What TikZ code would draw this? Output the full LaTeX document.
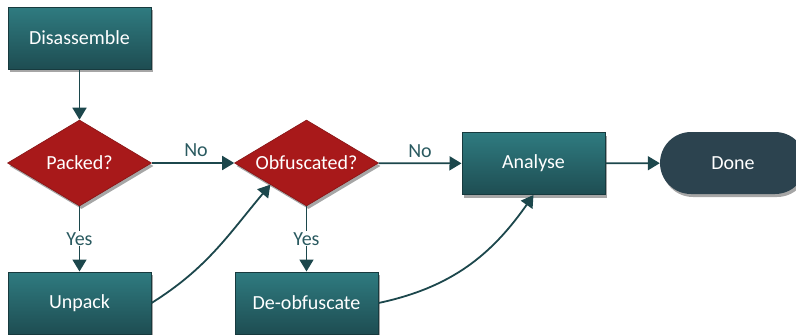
\documentclass[tikz,border=0pt]{standalone}
\usepackage{fontspec}
\setmainfont{Carlito}
\usetikzlibrary{shapes.geometric,arrows.meta,shadows}
\definecolor{tealtop}{HTML}{2F7B80}
\definecolor{tealbot}{HTML}{1E4D52}
\definecolor{tealedge}{HTML}{173A3E}
\definecolor{decred}{HTML}{A8191A}
\definecolor{donefill}{HTML}{2C434F}
\definecolor{linkcol}{HTML}{1C474C}
\definecolor{labelcol}{HTML}{2A5A60}
\tikzset{
  boxshadow/.style={drop shadow={shadow xshift=2pt,shadow yshift=-3pt,opacity=0.35,fill=black}},
  stepbox/.style={rectangle, minimum width=143pt, minimum height=62pt, inner sep=0pt,
    top color=tealtop, bottom color=tealbot, draw=tealedge, line width=1pt,
    text=white, font=\fontsize{20}{24}\selectfont, boxshadow},
  decision/.style={diamond, minimum width=144pt, minimum height=86pt, inner sep=0pt,
    shape aspect=1.67, fill=decred, draw=decred!80!black, line width=0.6pt,
    text=white, font=\fontsize{20}{24}\selectfont, boxshadow},
  endcap/.style={rectangle, rounded corners=31pt, minimum width=146pt, minimum height=62pt,
    inner sep=0pt, fill=donefill, text=white, font=\fontsize{20}{24}\selectfont, boxshadow},
  link/.style={draw=linkcol, line width=1.8pt, -{Triangle[length=12pt,width=14pt]}},
  lbl/.style={text=labelcol, font=\fontsize{20}{24}\selectfont, inner sep=2pt},
}
\begin{document}
\begin{tikzpicture}[x=1pt,y=-1pt]
  \useasboundingbox (0,0) rectangle (796,335);
  % process steps
  \node[stepbox] (dis) at (79.5,38) {Disassemble};
  \node[decision] (packed) at (79.5,163) {Packed?};
  \node[decision] (obf) at (306.5,163) {Obfuscated?};
  \node[stepbox] (ana) at (533.5,163.5) {Analyse};
  \node[endcap] (done) at (733,163) {Done};
  \node[stepbox] (unp) at (79.5,303) {Unpack};
  \node[stepbox] (deo) at (306.5,303) {De-obfuscate};
  % connectors
  \draw[link] (dis) -- (packed);
  \draw[link] (packed) -- node[lbl, above, yshift=3pt, xshift=3pt] {No} (obf);
  \draw[link] (obf) -- node[lbl, above, yshift=3pt] {No} (ana);
  \draw[link] (ana) -- (done);
  \draw[link] (packed) -- node[lbl, fill=white, inner sep=1pt] {Yes} (unp);
  \draw[link] (obf) -- node[lbl, fill=white, inner sep=1pt] {Yes} (deo);
  \draw[link] (unp.east) to[out=32, in=-130] (obf.south west);
  \draw[link] (deo.east) to[out=12, in=-125] (ana.south);
\end{tikzpicture}
\end{document}
